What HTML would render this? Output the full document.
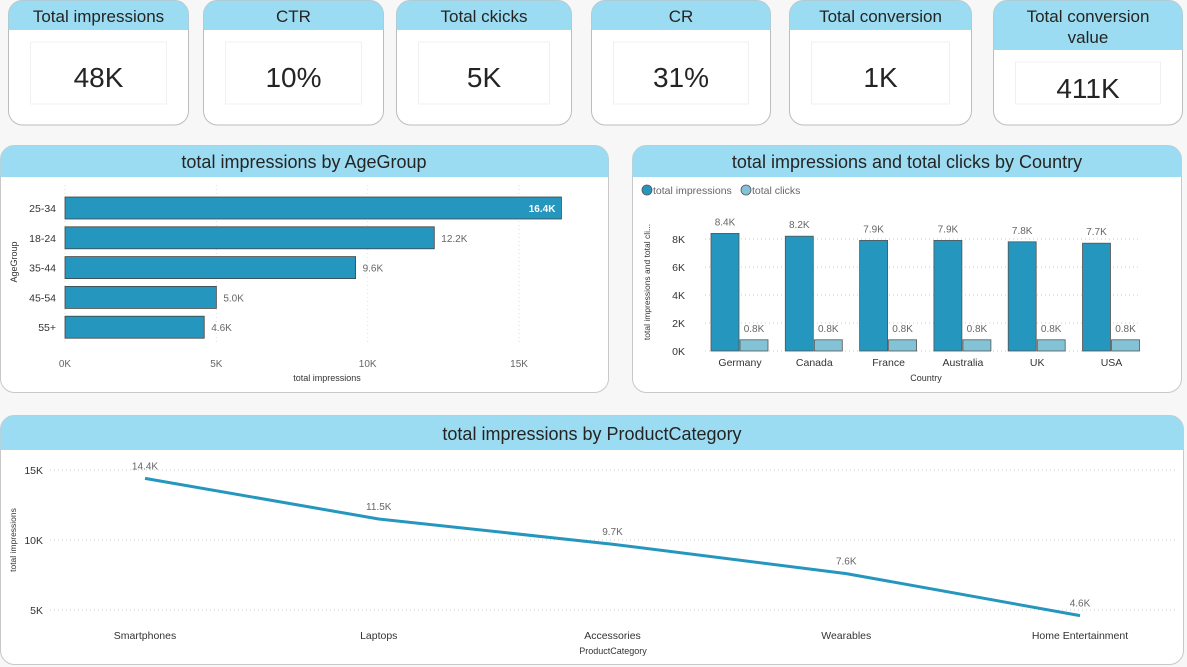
<!DOCTYPE html>
<html><head><meta charset="utf-8"><style>
html,body{margin:0;padding:0;background:#f7f7f7;width:1187px;height:667px;overflow:hidden;font-family:"Liberation Sans",sans-serif;}
svg{display:block}
text{font-family:"Liberation Sans",sans-serif}
</style></head><body>
<svg id="s" width="1187" height="667" viewBox="0 0 1187 667">
<defs>
<clipPath id="c1"><rect x="8" y="0" width="180" height="125" rx="14"/></clipPath>
</defs>
<g id="kpis"></g>

<g>
<rect x="0.5" y="145.5" width="608" height="247" rx="14" fill="#fff" stroke="#c8c8c8"/>
<path d="M0.5 177 V159.5 a14 14 0 0 1 14 -14 H594.5 a14 14 0 0 1 14 14 V177 Z" fill="#9bdcf2"/>
<text x="304" y="168" text-anchor="middle" font-size="18" fill="#252423">total impressions by AgeGroup</text>
<g id="agechart"></g>
</g>

<g>
<rect x="632.5" y="145.5" width="549" height="247" rx="14" fill="#fff" stroke="#c8c8c8"/>
<path d="M632.5 177 V159.5 a14 14 0 0 1 14 -14 H1167.5 a14 14 0 0 1 14 14 V177 Z" fill="#9bdcf2"/>
<text x="907" y="168" text-anchor="middle" font-size="18" fill="#252423">total impressions and total clicks by Country</text>
<g>
<g><circle cx="647" cy="190" r="5" fill="#2596be" stroke="#555" stroke-width="0.8"/><text x="653" y="194" font-size="10.5" fill="#666">total impressions</text></g>
<g><circle cx="746" cy="190" r="5" fill="#84c2d6" stroke="#555" stroke-width="0.8"/><text x="752" y="194" font-size="10.5" fill="#666">total clicks</text></g>
</g>
<g id="countrychart"></g>
</g>

<g>
<rect x="0.5" y="415.5" width="1183" height="249" rx="14" fill="#fff" stroke="#c8c8c8"/>
<path d="M0.5 450 V429.5 a14 14 0 0 1 14 -14 H1169.5 a14 14 0 0 1 14 14 V450 Z" fill="#9bdcf2"/>
<text x="592" y="440" text-anchor="middle" font-size="18" fill="#252423">total impressions by ProductCategory</text>
<g id="linechart"></g>
</g>
</svg>
<script>
// KPI data
const kpiTitles=["Total impressions","CTR","Total ckicks","CR","Total conversion","Total conversion value"];
const kpiValues=["48K","10%","5K","31%","1K","411K"];
// Age chart data
const ageCategories=["25-34","18-24","35-44","45-54","55+"];
const ageValues=[16.4,12.2,9.6,5.0,4.6];
const ageTicks=[0,5,10,15];
// Country chart data
const countries=["Germany","Canada","France","Australia","UK","USA"];
const countryImpressions=[8.4,8.2,7.9,7.9,7.8,7.7];
const countryClicks=[0.8,0.8,0.8,0.8,0.8,0.8];
const countryTicks=[0,2,4,6,8];
// Product chart data
const products=["Smartphones","Laptops","Accessories","Wearables","Home Entertainment"];
const productValues=[14.4,11.5,9.7,7.6,4.6];
const productTicks=[5,10,15];

const NS="http://www.w3.org/2000/svg";
function mk(tag,attrs,parent,txt){const e=document.createElementNS(NS,tag);for(const k in attrs)e.setAttribute(k,attrs[k]);if(txt!==undefined)e.textContent=txt;parent.appendChild(e);return e;}

// KPIs
const cards=[[8,180],[203,180],[396,175],[591,179],[789,182],[993,189]];
const kg=document.getElementById('kpis');
cards.forEach((c,i)=>{
  const g=mk('g',{},kg);
  
  
  const x=c[0]+0.5,w=c[1],tall=i===5;
  const hh=tall?50:30;
  mk('rect',{x:x,y:0.5,width:w,height:124.5,rx:14,fill:'#fff',stroke:'#bdbdbd'},g);
  mk('path',{d:`M${x} ${hh} V14.5 a14 14 0 0 1 14 -14 H${x+w-14} a14 14 0 0 1 14 14 V${hh} Z`,fill:'#9bdcf2'},g);
  if(tall){
    const t1=mk('text',{x:x+w/2,y:22,'text-anchor':'middle','font-size':17,fill:'#252423'},g,'Total conversion');
    const t2=mk('text',{x:x+w/2,y:43,'text-anchor':'middle','font-size':17,fill:'#252423'},g,'value');
    
    
  } else {
    const t=mk('text',{x:x+w/2,y:22,'text-anchor':'middle','font-size':17,fill:'#252423'},g,kpiTitles[i]);
    
  }
  const by=tall?62:42;
  mk('rect',{x:x+22,y:by,width:w-44,height:tall?42:62,fill:'#fff',stroke:'#f0f0f0'},g);
  const v=mk('text',{x:x+w/2,y:tall?98:87,'text-anchor':'middle','font-size':28,fill:'#252423'},g,kpiValues[i]);
  
});

// Age bar chart
(function(){
  const g=document.getElementById('agechart');
  const x0=65,pk=30.27,y0=208,step=29.8,bh=22;
  const X=v=>x0+v*pk;
  ageTicks.forEach(t=>{
    mk('line',{x1:X(t),y1:185,x2:X(t),y2:345,stroke:'#ddd','stroke-dasharray':'1,3'},g);
    const l=mk('text',{x:X(t),y:367,'text-anchor':'middle','font-size':10,fill:'#666'},g,t+'K');
    
  });
  ageCategories.forEach((c,i)=>{
    const yc=y0+i*step;
    const r=mk('rect',{x:x0,y:yc-bh/2,width:X(ageValues[i])-x0,height:bh,fill:'#2596be',stroke:'#444','stroke-width':0.8},g);
    
    const l=mk('text',{x:56,y:yc+4,'text-anchor':'end','font-size':10.5,fill:'#333'},g,c);
    
    const inside=i===0;
    const vl=mk('text',{x:inside?X(ageValues[i])-6:X(ageValues[i])+7,y:yc+4,'text-anchor':inside?'end':'start','font-size':10,fill:inside?'#fff':'#666','font-weight':inside?'bold':'normal'},g,ageValues[i].toFixed(1)+'K');
    
  });
  const t=mk('text',{x:327,y:381,'text-anchor':'middle','font-size':9,fill:'#333'},g,'total impressions');
  
  const a=mk('text',{x:0,y:0,'text-anchor':'middle','font-size':9,fill:'#333',transform:'translate(17,262) rotate(-90)'},g,'AgeGroup');
  
})();

// Country chart
(function(){
  const g=document.getElementById('countrychart');
  const y0=351,pk=14,cx0=739,step=74.3,bw=28;
  const Y=v=>y0-v*pk;
  countryTicks.forEach(t=>{
    mk('line',{x1:705,y1:Y(t),x2:1140,y2:Y(t),stroke:'#ccc','stroke-dasharray':'1,3'},g);
    const l=mk('text',{x:685,y:Y(t)+4,'text-anchor':'end','font-size':10.5,fill:'#333'},g,t+'K');
    
  });
  countries.forEach((c,i)=>{
    const cx=cx0+i*step;
    const r1=mk('rect',{x:cx-bw,y:Y(countryImpressions[i]),width:bw,height:countryImpressions[i]*pk,fill:'#2596be',stroke:'#555','stroke-width':0.8},g);
    
    const r2=mk('rect',{x:cx+1,y:Y(countryClicks[i]),width:bw,height:countryClicks[i]*pk,fill:'#84c2d6',stroke:'#555','stroke-width':0.8},g);
    
    const l1=mk('text',{x:cx-bw/2,y:Y(countryImpressions[i])-8,'text-anchor':'middle','font-size':10,fill:'#666'},g,countryImpressions[i].toFixed(1)+'K');
    
    const l2=mk('text',{x:cx+1+bw/2,y:Y(countryClicks[i])-8,'text-anchor':'middle','font-size':10,fill:'#666'},g,countryClicks[i].toFixed(1)+'K');
    
    const cl=mk('text',{x:cx+1,y:366,'text-anchor':'middle','font-size':10.5,fill:'#333'},g,c);
    
  });
  const t=mk('text',{x:926,y:381,'text-anchor':'middle','font-size':9,fill:'#333'},g,'Country');
  
  const a=mk('text',{x:0,y:0,'text-anchor':'middle','font-size':8.5,fill:'#333',transform:'translate(650,282) rotate(-90)'},g,'total impressions and total cli...');
  
})();

// Line chart
(function(){
  const g=document.getElementById('linechart');
  const y0=610,pk=14,x0=145,step=233.75;
  const Y=v=>y0-(v-5)*pk;
  const X=i=>x0+i*step;
  productTicks.forEach(t=>{
    mk('line',{x1:50,y1:Y(t),x2:1175,y2:Y(t),stroke:'#ccc','stroke-dasharray':'1,3'},g);
    const l=mk('text',{x:43,y:Y(t)+4,'text-anchor':'end','font-size':10.5,fill:'#333'},g,t+'K');
    
  });
  const pts=productValues.map((v,i)=>X(i)+','+Y(v)).join(' ');
  const pl=mk('polyline',{points:pts,fill:'none',stroke:'#2596be','stroke-width':3,'stroke-linejoin':'round'},g);
  
  products.forEach((p,i)=>{
    const vl=mk('text',{x:X(i),y:Y(productValues[i])-9,'text-anchor':'middle','font-size':10,fill:'#666'},g,productValues[i].toFixed(1)+'K');
    
    const cl=mk('text',{x:X(i),y:639,'text-anchor':'middle','font-size':10.5,fill:'#333'},g,p);
    
  });
  const t=mk('text',{x:613,y:654,'text-anchor':'middle','font-size':9,fill:'#333'},g,'ProductCategory');
  
  const a=mk('text',{x:0,y:0,'text-anchor':'middle','font-size':8.5,fill:'#333',transform:'translate(16,540) rotate(-90)'},g,'total impressions');
  
})();
</script>
</body></html>
